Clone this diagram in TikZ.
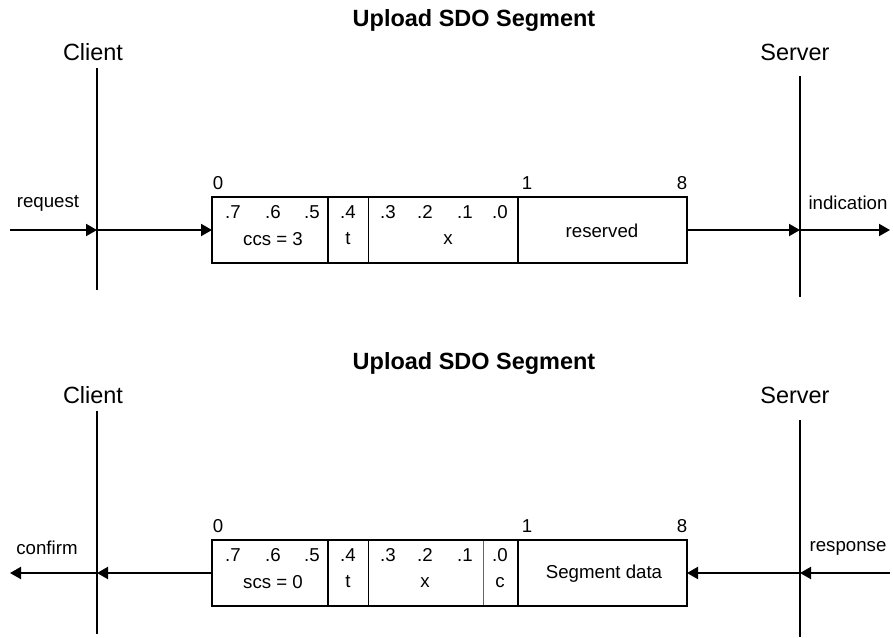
\documentclass[tikz,border=0pt]{standalone}
\usepackage{fontspec}
\setmainfont{Liberation Sans}
\usetikzlibrary{arrows.meta}

\begin{document}
\begin{tikzpicture}[x=0.75pt, y=-0.75pt,
  lbl/.style={font=\fontsize{14}{16}\selectfont, inner sep=0pt},
  big/.style={font=\fontsize{17.6}{20}\selectfont, inner sep=0pt},
  heading/.style={font=\fontsize{17.6}{20}\selectfont\bfseries, inner sep=0pt},
  cell/.style={draw, line width=0.6pt, minimum height=49.5pt, inner sep=0pt, outer sep=0pt, anchor=north west},
  frame/.style={line width=1.5pt},
  lifeline/.style={line width=1.5pt},
  msg/.style={line width=1.5pt, -{Triangle[length=8.25pt,width=9pt]}}]
  \useasboundingbox (0,0) rectangle (893,637);

  % upper frame: request / indication
  \node[heading] (qtitle) at (474,20) {Upload SDO Segment};
  \node[big] (qclient) at (93,52) {Client};
  \node[big] (qserver) at (795,52) {Server};
  \coordinate (qcltop) at (97,68);
  \coordinate (qclbot) at (97,290);
  \coordinate (qsvtop) at (800,76);
  \coordinate (qsvbot) at (800,297);
  \draw[lifeline] (qcltop) -- (qclbot);
  \draw[lifeline] (qsvtop) -- (qsvbot);

  \node[cell, minimum width=87pt] (qccs) at (212,197) {};
  \node[cell, minimum width=30pt] (qt) at (qccs.north east) {};
  \node[cell, minimum width=112.5pt] (qx) at (qt.north east) {};
  \node[cell, minimum width=126.75pt] (qres) at (qx.north east) {};
  \draw[frame] (qccs.north west) rectangle (qres.south east);
  \draw[frame] (qccs.north east) -- (qccs.south east);
  \draw[frame] (qx.north east) -- (qx.south east);

  \node[lbl] (q0) at (218,183) {0};
  \node[lbl] (q1) at (527,183) {1};
  \node[lbl] (q8) at (682,183) {8};
  \foreach \b/\xx in {7/233,6/273,5/312,4/348,3/388,2/425,1/465,0/500}
    \node[lbl] (qb\b) at (\xx,212) {.\b};
  \node[lbl] (qccstxt) at (273,239) {ccs = 3};
  \node[lbl] (qttxt) at (348,239) {t};
  \node[lbl] (qxtxt) at (448,240) {x};
  \node[lbl] (qrestxt) at (602,231) {reserved};

  \node[lbl] (qreq) at (48,203) {request};
  \node[lbl] (qind) at (848,203) {indication};
  \coordinate (qin) at (qccs.west -| 10,0);
  \coordinate (qcl) at (qccs.west -| qcltop);
  \coordinate (qsv) at (qccs.west -| qsvtop);
  \coordinate (qout) at (qccs.west -| 890,0);
  \draw[msg] (qin) -- (qcl);
  \draw[msg] (qcl) -- (qccs.west);
  \draw[msg] (qres.east) -- (qsv);
  \draw[msg] (qsv) -- (qout);

  % lower frame: response / confirm
  \node[heading] (rtitle) at (474,363) {Upload SDO Segment};
  \node[big] (rclient) at (93,395) {Client};
  \node[big] (rserver) at (795,395) {Server};
  \coordinate (rcltop) at (97,411);
  \coordinate (rclbot) at (97,634);
  \coordinate (rsvtop) at (800,420);
  \coordinate (rsvbot) at (800,637);
  \draw[lifeline] (rcltop) -- (rclbot);
  \draw[lifeline] (rsvtop) -- (rsvbot);

  \node[cell, minimum width=87pt] (rscs) at (212,540) {};
  \node[cell, minimum width=30pt] (rt) at (rscs.north east) {};
  \node[cell, minimum width=86.25pt] (rx) at (rt.north east) {};
  \node[cell, minimum width=26.25pt, draw=black!60] (rc) at (rx.north east) {};
  \node[cell, minimum width=126.75pt] (rseg) at (rc.north east) {};
  \draw[frame] (rscs.north west) rectangle (rseg.south east);
  \draw[frame] (rscs.north east) -- (rscs.south east);
  \draw[frame] (rc.north east) -- (rc.south east);

  \node[lbl] (r0) at (218,526) {0};
  \node[lbl] (r1) at (527,526) {1};
  \node[lbl] (r8) at (682,526) {8};
  \foreach \b/\xx in {7/233,6/273,5/312,4/348,3/388,2/425,1/465,0/500}
    \node[lbl] (rb\b) at (\xx,555) {.\b};
  \node[lbl] (rscstxt) at (273,582) {scs = 0};
  \node[lbl] (rttxt) at (348,582) {t};
  \node[lbl] (rxtxt) at (425,583) {x};
  \node[lbl] (rctxt) at (500,583) {c};
  \node[lbl] (rsegtxt) at (604,574) {Segment data};

  \node[lbl] (rcon) at (47,548) {confirm};
  \node[lbl] (rrsp) at (848,548) {response};
  \coordinate (rin) at (rscs.west -| 890,0);
  \coordinate (rsv) at (rscs.west -| rsvtop);
  \coordinate (rcl) at (rscs.west -| rcltop);
  \coordinate (rout) at (rscs.west -| 10,0);
  \draw[msg] (rin) -- (rsv);
  \draw[msg] (rsv) -- (rseg.east);
  \draw[msg] (rscs.west) -- (rcl);
  \draw[msg] (rcl) -- (rout);
\end{tikzpicture}
\end{document}
